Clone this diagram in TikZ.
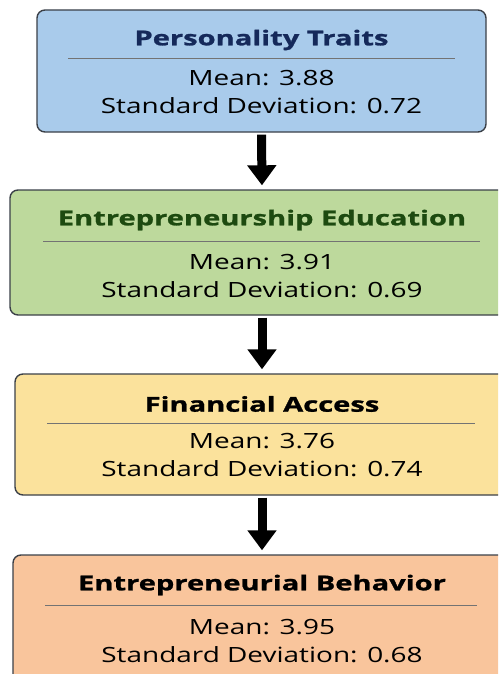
\documentclass[tikz,border=0pt]{standalone}
\usepackage{fontspec}
\setmainfont[FakeStretch=1.33]{Open Sans}
\newfontfamily\headfont[FakeStretch=1.42, FakeBold=1.2]{Open Sans}
\usetikzlibrary{arrows.meta}
\definecolor{bluebox}{HTML}{A9CBEB}
\definecolor{greenbox}{HTML}{BDD99C}
\definecolor{yellowbox}{HTML}{FBE29C}
\definecolor{orangebox}{HTML}{F9C59C}
\definecolor{navytxt}{HTML}{15295A}
\definecolor{greentxt}{HTML}{1D4A10}
\definecolor{edgegray}{HTML}{3B4048}
\begin{document}
\begin{tikzpicture}[x=1pt, y=-1pt, line join=round,
    box/.style={draw=edgegray, line width=1.4pt, rounded corners=8pt, inner sep=0pt},
    title/.style={inner sep=0pt, font=\headfont\fontsize{20.5}{24}\selectfont\bfseries},
    stat/.style={inner sep=0pt, font=\fontsize{21}{25}\selectfont},
    sep/.style={line width=0.6pt, draw=black!55},
    flow/.style={line width=9pt, -{Triangle[width=28pt,length=20pt]}, shorten <=2pt, shorten >=4pt}]
  \useasboundingbox (0,0) rectangle (498,674);
  \clip (0,0) rectangle (498,674);
  % personality traits
  \node[box, fill=bluebox, minimum width=449pt, minimum height=122pt] (pt) at (261.5,71) {};
  \node[title, text=navytxt] (ptT) at (261.5,40) {Personality Traits};
  \draw[sep] (68,58) -- (455,58);
  \node[stat] (ptM) at (261.5,78) {Mean: 3.88};
  \node[stat] (ptS) at (261.5,106) {Standard Deviation: 0.72};
  % entrepreneurship education
  \node[box, fill=greenbox, minimum width=504pt, minimum height=125pt] (ee) at (262,252.5) {};
  \node[title, text=greentxt] (eeT) at (262,220) {Entrepreneurship Education};
  \draw[sep] (43,241) -- (480,241);
  \node[stat] (eeM) at (262,262) {Mean: 3.91};
  \node[stat] (eeS) at (262,290) {Standard Deviation: 0.69};
  % financial access
  \node[box, fill=yellowbox, minimum width=494pt, minimum height=121pt] (fa) at (262,434.5) {};
  \node[title] (faT) at (262,404) {Financial Access};
  \draw[sep] (47,423) -- (475,423);
  \node[stat] (faM) at (262,441) {Mean: 3.76};
  \node[stat] (faS) at (262,469) {Standard Deviation: 0.74};
  % entrepreneurial behavior
  \node[box, fill=orangebox, minimum width=498pt, minimum height=140pt] (eb) at (262,625) {};
  \node[title] (ebT) at (262,585) {Entrepreneurial Behavior};
  \draw[sep] (45,605) -- (477,605);
  \node[stat] (ebM) at (262,627) {Mean: 3.95};
  \node[stat] (ebS) at (262,655) {Standard Deviation: 0.68};
  % arrows
  \draw[flow] (pt.south) -- (ee.north);
  \draw[flow] (ee.south) -- (fa.north);
  \draw[flow] (fa.south) -- (eb.north);
\end{tikzpicture}
\end{document}
